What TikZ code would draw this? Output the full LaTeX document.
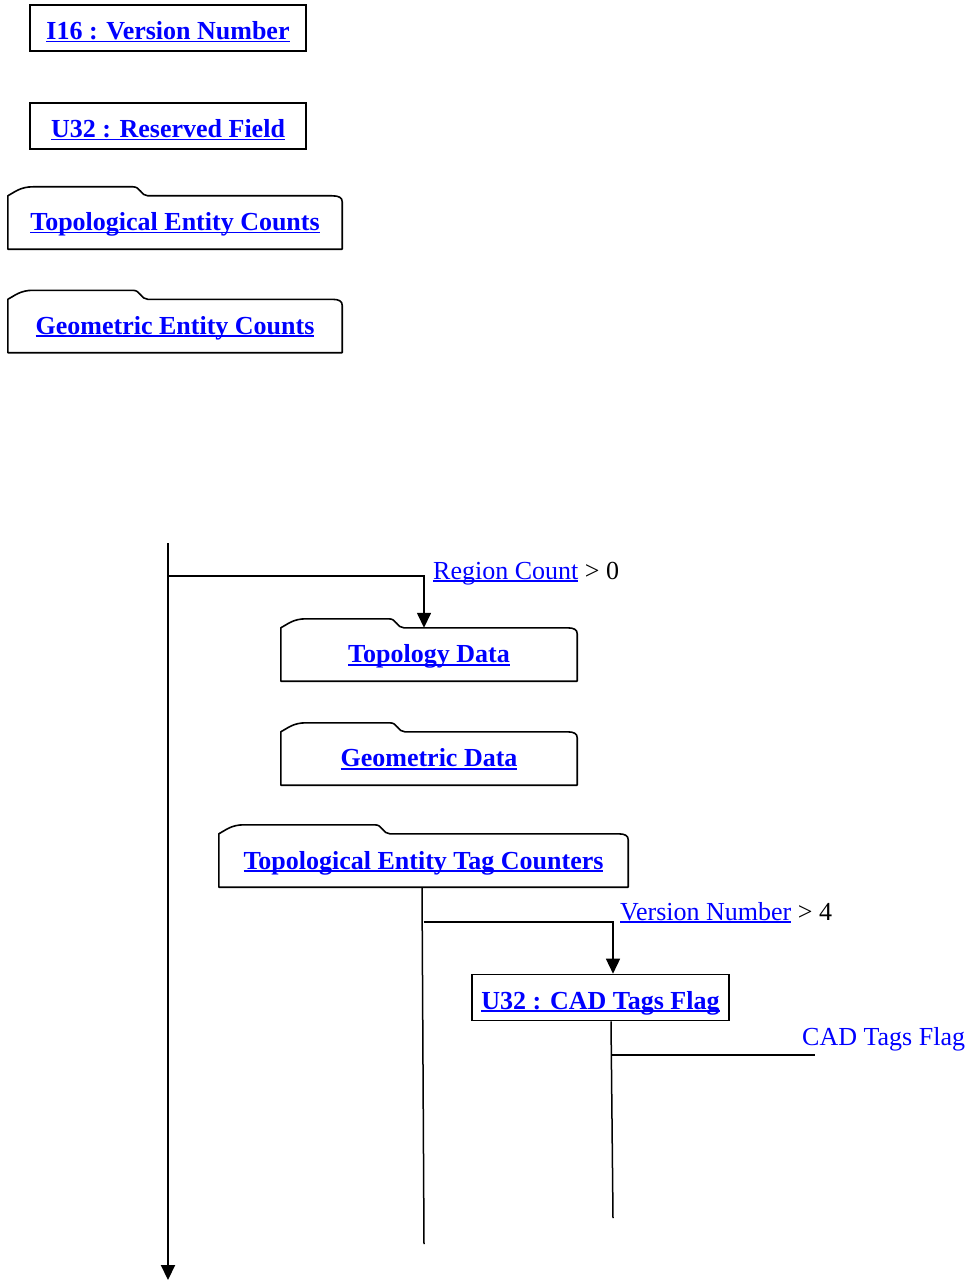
\documentclass[tikz,border=0pt]{standalone}
\usepackage{fontspec}
\setmainfont{Liberation Serif}
\usetikzlibrary{calc,arrows.meta}

\definecolor{linkblue}{RGB}{0,0,255}

% hyperlink-style text: underline drawn through the descenders
\newsavebox\lkbox
\newcommand{\linktext}[1]{\sbox\lkbox{#1}\rlap{\rule[-3pt]{\wd\lkbox}{1.7pt}}\usebox\lkbox}

% folder-tab outline around a body node; #2 = length of the flat part of the tab
\newcommand{\tabframe}[2]{%
  \draw[frame] (#1.south west) -- (#1.north west)
    .. controls ($(#1.north west)+(6,-3)$) and ($(#1.north west)+(12,-9)$) .. ($(#1.north west)+(25,-9)$)
    -- ($(#1.north west)+(#2,-9)$)
    .. controls ($(#1.north west)+(#2+8,-9)$) and ($(#1.north west)+(#2+8,0)$) .. ($(#1.north west)+(#2+15,0)$)
    -- ($(#1.north east)+(-10,0)$)
    .. controls ($(#1.north east)+(-3,0)$) and ($(#1.north east)+(0,2)$) .. ($(#1.north east)+(0,6)$)
    -- (#1.south east) -- cycle;}

\tikzset{
  titlefont/.style={font=\bfseries\fontsize{26}{30}\selectfont, text=linkblue},
  plainbox/.style={titlefont, draw, line width=1.6pt, inner sep=0pt,
    minimum height=46pt, text height=26pt, text depth=3pt},
  tabbody/.style={titlefont, inner sep=0pt, minimum height=53pt,
    text height=19pt, text depth=3pt},
  frame/.style={line width=1.6pt, line join=round},
  flow/.style={line width=1.5pt},
  spine/.style={line width=2pt, -{Triangle[width=14pt,length=15pt]}},
  flowarrow/.style={flow, -{Triangle[width=14pt,length=15pt]}},
  cond/.style={anchor=base west, inner sep=0pt, font=\fontsize{26}{30}\selectfont, text=linkblue},
}

\begin{document}
\begin{tikzpicture}[x=1pt, y=-1pt]
\useasboundingbox (0,0) rectangle (969,1281);

% header records
\node[plainbox, minimum width=276pt] (ver) at (168,28) {\linktext{I16 : Version Number}};
\node[plainbox, minimum width=276pt] (res) at (168,126) {\linktext{U32 : Reserved Field}};

\node[tabbody, minimum width=334pt] (tec) at (175,222.5) {\linktext{Topological Entity Counts}};
\tabframe{tec}{125}
\node[tabbody, minimum width=334pt] (gec) at (175,326) {\linktext{Geometric Entity Counts}};
\tabframe{gec}{125}

% data sections
\node[tabbody, minimum width=296pt] (topo) at (429,654.5) {\linktext{Topology Data}};
\tabframe{topo}{108}
\node[tabbody, minimum width=296pt] (geom) at (429,758.5) {\linktext{Geometric Data}};
\tabframe{geom}{109}
\node[tabbody, minimum width=409pt, text height=20pt] (tag) at (423.5,860.5) {\linktext{Topological Entity Tag Counters}};
\tabframe{tag}{156}

\node[plainbox, minimum width=257pt] (cad) at (600.5,997.5) {\linktext{U32 : CAD Tags Flag}};

% main flow line
\coordinate (spinetop) at (168,543);
\coordinate (spineend) at (168,1280);
\draw[spine] (spinetop) -- (spineend);

% region count branch
\coordinate (rcfork) at (168,576);
\draw[flowarrow] (rcfork) -| ([xshift=-5pt]topo.north);
\node[cond] (rc) at (433,579) {\linktext{Region Count}\textcolor{black}{\ > 0}};

% version number branch
\coordinate (tagend) at (424,1244);
\draw[flow] ([xshift=-1.5pt]tag.south) -- (tagend);
\coordinate (vnfork) at (423.5,922);
\draw[flowarrow] (vnfork) -| ([xshift=12.5pt]cad.north);
\node[cond] (vn) at (620,920) {\linktext{Version Number}\textcolor{black}{\ > 4}};

% CAD tags flag branch
\coordinate (cadend) at (613,1218);
\draw[flow] ([xshift=10.5pt]cad.south) -- (cadend);
\coordinate (cffork) at (611.5,1055);
\coordinate (cfend) at (815,1055);
\draw[flow] (cffork) -- (cfend);
\node[cond] (cf) at (802,1045) {CAD Tags Flag};
\end{tikzpicture}
\end{document}
